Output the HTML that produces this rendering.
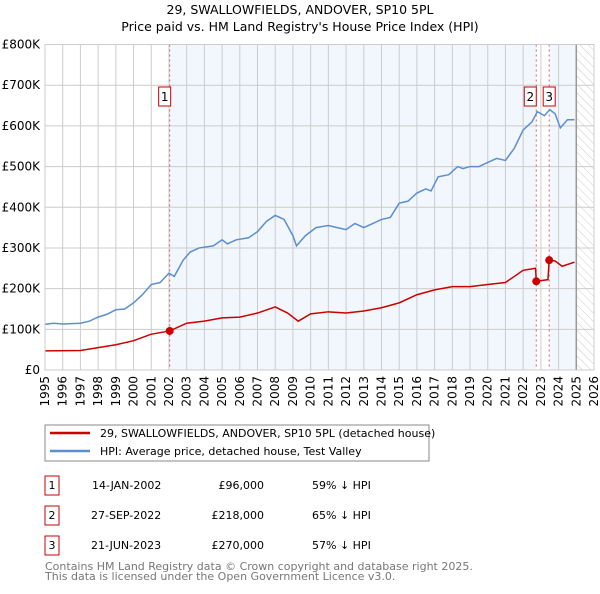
<!DOCTYPE html>
<html><head><meta charset="utf-8"><style>
body{margin:0;background:#fff;font-family:"DejaVu Sans","Liberation Sans",sans-serif;}
svg text{font-family:"DejaVu Sans","Liberation Sans",sans-serif;}
</style></head><body>
<svg id="c" width="600" height="590" xmlns="http://www.w3.org/2000/svg">
<defs><pattern id="hatch" width="6" height="6" patternUnits="userSpaceOnUse" patternTransform="rotate(-45)"><line x1="0" y1="0" x2="0" y2="6" stroke="#ccc" stroke-width="1"/></pattern></defs>
<text x="300" y="14" text-anchor="middle" font-size="12.5">29, SWALLOWFIELDS, ANDOVER, SP10 5PL</text>
<text x="300" y="31" text-anchor="middle" font-size="12.5">Price paid vs. HM Land Registry's House Price Index (HPI)</text>
<g id="plot"></g>
<rect x="45" y="425" width="384" height="36" fill="#fff" stroke="#888"/>
<line x1="50" y1="433" x2="90" y2="433" stroke="#cc0000" stroke-width="2.5"/>
<text x="100" y="437" font-size="11">29, SWALLOWFIELDS, ANDOVER, SP10 5PL (detached house)</text>
<line x1="50" y1="451" x2="90" y2="451" stroke="#5b8fd0" stroke-width="2.5"/>
<text x="100" y="455" font-size="11">HPI: Average price, detached house, Test Valley</text>
<g font-size="11">
<rect x="45" y="476" width="14" height="19" fill="#fff" stroke="#cc0000"/><text x="52" y="489" text-anchor="middle">1</text>
<text x="92" y="489">14-JAN-2002</text><text x="264" y="489" text-anchor="end">£96,000</text><text x="312" y="489">59% ↓ HPI</text>
<rect x="45" y="506" width="14" height="19" fill="#fff" stroke="#cc0000"/><text x="52" y="519" text-anchor="middle">2</text>
<text x="91" y="519">27-SEP-2022</text><text x="264" y="519" text-anchor="end">£218,000</text><text x="312" y="519">65% ↓ HPI</text>
<rect x="45" y="536" width="14" height="19" fill="#fff" stroke="#cc0000"/><text x="52" y="549" text-anchor="middle">3</text>
<text x="91" y="549">21-JUN-2023</text><text x="264" y="549" text-anchor="end">£270,000</text><text x="312" y="549">57% ↓ HPI</text>
</g>
<text x="45" y="570" font-size="11" fill="#777">Contains HM Land Registry data © Crown copyright and database right 2025.</text>
<text x="45" y="580" font-size="11" fill="#777">This data is licensed under the Open Government Licence v3.0.</text>
</svg>
<script>
const hpiYears=[1995,1995.5,1996,1997,1997.5,1998,1998.5,1999,1999.5,2000,2000.5,2001,2001.5,2002,2002.3,2002.8,2003.2,2003.7,2004.5,2005,2005.3,2005.8,2006.5,2007,2007.5,2008,2008.5,2009,2009.2,2009.7,2010.3,2011,2011.5,2012,2012.5,2013,2013.5,2014,2014.5,2015,2015.5,2016,2016.5,2016.8,2017.2,2017.8,2018.3,2018.6,2019,2019.5,2020,2020.5,2021,2021.5,2022,2022.5,2022.8,2023.2,2023.5,2023.8,2024.1,2024.5,2024.9];
const hpiValues=[112,115,113,115,120,130,137,148,150,165,185,210,215,238,230,270,290,300,305,320,310,320,325,340,365,380,370,330,305,330,350,355,350,345,360,350,360,370,375,410,415,435,445,440,475,480,500,495,500,500,510,520,515,545,590,610,635,625,640,630,595,615,615];
const propYears=[1995,1997,1998,1999,2000,2001,2002.04,2003,2004,2005,2006,2007,2008,2008.7,2009.3,2010,2011,2012,2013,2014,2015,2016,2017,2018,2019,2020,2021,2022,2022.7,2022.74,2023.4,2023.47,2023.8,2024.2,2024.9];
const propValues=[47,48,55,62,72,88,96,115,120,128,130,140,155,140,120,138,143,140,145,153,165,185,197,205,205,210,215,245,250,218,222,270,268,255,265];
const saleLabels=["1","2","3"];
const saleYears=[2002.04,2022.74,2023.47];
const saleValues=[96,218,270];
const yTicks=[0,100,200,300,400,500,600,700,800];
const yTickLabels=["£0","£100K","£200K","£300K","£400K","£500K","£600K","£700K","£800K"];
const xTicks=[];for(let y=1995;y<=2026;y++)xTicks.push(y);

const X0=45,X1=594,Y0=370,Y1=44.5;
const x=v=>X0+(v-1995)/(2026-1995)*(X1-X0);
const y=v=>Y0-v/800*(Y0-Y1);
const ns="http://www.w3.org/2000/svg",g=document.getElementById('plot');
function mk(t,a){const e=document.createElementNS(ns,t);for(const k in a)e.setAttribute(k,a[k]);g.appendChild(e);return e;}
let e;
e=mk('rect',{x:x(saleYears[0]),y:Y1,width:x(2025)-x(saleYears[0]),height:Y0-Y1,fill:'#f2f6fd'});


e=mk('rect',{x:x(saleYears[1]),y:Y1,width:x(saleYears[2])-x(saleYears[1]),height:Y0-Y1,fill:'#fff'});


e=mk('rect',{x:x(2025),y:Y1,width:X1-x(2025),height:Y0-Y1,fill:'url(#hatch)'});


xTicks.forEach(t=>{
 e=mk('line',{x1:x(t),x2:x(t),y1:Y1,y2:Y0,stroke:'#ccc'});
 
 
 e=mk('text',{x:0,y:0,transform:`translate(${x(t)+4},${Y0+6}) rotate(-90)`,'text-anchor':'end','font-size':'12'});e.textContent=t;
 
 
});
yTicks.forEach((t,i)=>{
 e=mk('line',{x1:X0,x2:X1,y1:y(t),y2:y(t),stroke:'#ccc'});
 
 
 e=mk('text',{x:X0-5,y:y(t)+4,'text-anchor':'end','font-size':'12'});e.textContent=yTickLabels[i];
 
 
});
e=mk('line',{x1:x(2025),x2:x(2025),y1:Y1,y2:Y0,stroke:'#999','stroke-width':1.5});


saleYears.forEach(s=>{
 e=mk('line',{x1:x(s),x2:x(s),y1:Y1,y2:Y0,stroke:'#e06060','stroke-dasharray':'2,3'});
 
 
});
e=mk('polyline',{points:hpiYears.map((t,i)=>x(t)+','+y(hpiValues[i])).join(' '),fill:'none',stroke:'#5b8fd0','stroke-width':1.5});


e=mk('polyline',{points:propYears.map((t,i)=>x(t)+','+y(propValues[i])).join(' '),fill:'none',stroke:'#cc0000','stroke-width':1.5});


saleYears.forEach((s,i)=>{
 e=mk('circle',{cx:x(s),cy:y(saleValues[i]),r:4,fill:'#cc0000'});
 
 
 const bx=i==1?x(s)-12:(i==2?x(s)-6:x(s)-11);
 e=mk('rect',{x:bx,y:87,width:12,height:19,fill:'#fff',stroke:'#cc0000'});
 
 
 e=mk('text',{x:bx+6,y:101,'text-anchor':'middle','font-size':'12'});e.textContent=saleLabels[i];
 
 
});
e=mk('rect',{x:X0,y:Y1,width:X1-X0,height:Y0-Y1,fill:'none',stroke:'#ccc'});


</script>
</body></html>
